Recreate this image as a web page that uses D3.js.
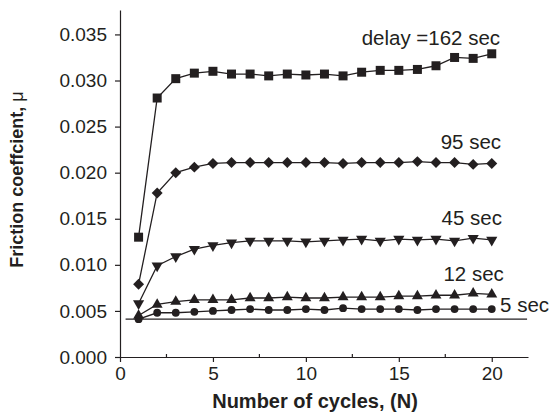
<!DOCTYPE html>
<html>
<head>
<meta charset="utf-8">
<script src="https://cdn.jsdelivr.net/npm/d3@7"></script>
<style>
    body { margin: 0; background: #fff; }
    svg text { font-family: "Liberation Sans", Arial, Helvetica, sans-serif; fill: #231f20; }
</style>
</head>
<body>
<div id="chart"></div>
<script>
// number of cycles (x) and friction coefficient per delay time
const cycles = [1, 2, 3, 4, 5, 6, 7, 8, 9, 10, 11, 12, 13, 14, 15, 16, 17, 18, 19, 20];
const delay162 = [0.0130, 0.0281, 0.0302, 0.0308, 0.0310, 0.0307, 0.0307, 0.0305, 0.0307, 0.0306,
    0.0307, 0.0305, 0.0309, 0.0311, 0.0311, 0.0312, 0.0316, 0.0325, 0.0324, 0.0329];
const delay95 = [0.0079, 0.0178, 0.0200, 0.0206, 0.0210, 0.0211, 0.0211, 0.0211, 0.0211, 0.0211,
    0.0211, 0.0210, 0.0211, 0.0211, 0.0211, 0.0212, 0.0211, 0.0211, 0.0209, 0.0210];
const delay45 = [0.0058, 0.0099, 0.0109, 0.0117, 0.0121, 0.0124, 0.0126, 0.0126, 0.0126, 0.0125,
    0.0126, 0.0127, 0.0128, 0.0126, 0.0128, 0.0127, 0.0128, 0.0126, 0.0129, 0.0127];
const delay12 = [0.0045, 0.0057, 0.0060, 0.0062, 0.0062, 0.0062, 0.0064, 0.0064, 0.0065, 0.0064,
    0.0064, 0.0065, 0.0065, 0.0065, 0.0066, 0.0066, 0.0067, 0.0067, 0.0069, 0.0068];
const delay5 = [0.0041, 0.0048, 0.0048, 0.0049, 0.0050, 0.0051, 0.0052, 0.0051, 0.0051, 0.0052,
    0.0051, 0.0053, 0.0052, 0.0052, 0.0052, 0.0051, 0.0052, 0.0052, 0.0052, 0.0052];

const seriesNames = ["delay =162 sec", "95 sec", "45 sec", "12 sec", "5 sec"];
const seriesValues = [delay162, delay95, delay45, delay12, delay5];

// label anchor points in data units
const labelX = [20.45, 20.5, 20.55, 20.65, 20.45];
const labelY = [0.0339, 0.0226, 0.0143, 0.0083, 0.0049];

// flat reference line under the curves
const refLineX = [0.3, 21.9];
const refLineY = [0.0041, 0.0041];

const xTicks = [0, 5, 10, 15, 20];
const xMinorTicks = [2.5, 7.5, 12.5, 17.5];
const yTicks = [0, 0.005, 0.010, 0.015, 0.020, 0.025, 0.030, 0.035];

const width = 553;
const height = 415;
const margin = ({top: 10, right: 25, bottom: 58, left: 120});
const ink = "#231f20";

const x = d3.scaleLinear()
    .domain([0, 21.95])
    .range([margin.left, width - margin.right]);

const y = d3.scaleLinear()
    .domain([0, 0.03765])
    .range([height - margin.bottom, margin.top]);

const svg = d3.select("#chart").append("svg")
    .attr("width", width)
    .attr("height", height)
    .attr("viewBox", [0, 0, width, height]);

// axes
const xAxis = g => g
    .attr("transform", `translate(0,${y(0)})`)
    .call(d3.axisBottom(x).tickValues(xTicks).tickFormat(d3.format("d"))
        .tickSize(5).tickPadding(5).tickSizeOuter(0))
    .call(g => g.selectAll("text").attr("font-size", 19).attr("fill", ink))
    .call(g => g.selectAll("line, path").attr("stroke", ink).attr("stroke-width", 1.2));

const yAxis = g => g
    .attr("transform", `translate(${x(0)},0)`)
    .call(d3.axisLeft(y).tickValues(yTicks).tickFormat(d3.format(".3f"))
        .tickSize(5).tickPadding(8).tickSizeOuter(0))
    .call(g => g.selectAll("text").attr("font-size", 19).attr("fill", ink))
    .call(g => g.selectAll("line, path").attr("stroke", ink).attr("stroke-width", 1.2));

svg.append("g").call(xAxis);
svg.append("g").call(yAxis);

// small inward minor ticks on the x axis
svg.append("g")
    .selectAll("line")
    .data(xMinorTicks)
    .join("line")
    .attr("x1", d => x(d))
    .attr("x2", d => x(d))
    .attr("y1", y(0))
    .attr("y2", y(0) - 3)
    .attr("stroke", ink)
    .attr("stroke-width", 1.2);

// axis titles
svg.append("text")
    .attr("x", 315)
    .attr("y", 408)
    .attr("text-anchor", "middle")
    .attr("font-size", 20)
    .attr("font-weight", "bold")
    .text("Number of cycles, (N)");

const yTitle = svg.append("text")
    .attr("transform", `translate(23,${(y(0) + margin.top) / 2 - 4}) rotate(-90)`)
    .attr("text-anchor", "middle")
    .attr("font-size", 18)
    .attr("font-weight", "bold");
yTitle.append("tspan").text("Friction coeffcient, ");
yTitle.append("tspan").attr("font-weight", "normal").text("μ");

// reference line
svg.append("line")
    .attr("x1", x(refLineX[0]))
    .attr("x2", x(refLineX[1]))
    .attr("y1", y(refLineY[0]))
    .attr("y2", y(refLineY[1]))
    .attr("stroke", ink)
    .attr("stroke-width", 1.2);

const line = d3.line()
    .x((d, i) => x(cycles[i]))
    .y(d => y(d));

const symbols = [
    d3.symbol().type(d3.symbolSquare).size(81),
    d3.symbol().type(d3.symbolSquare).size(60),
    d3.symbol().type(d3.symbolTriangle).size(54),
    d3.symbol().type(d3.symbolTriangle).size(52),
    d3.symbol().type(d3.symbolCircle).size(48)
];
const rotations = [0, 45, 180, 0, 0];

seriesValues.forEach((values, k) => {
    svg.append("path")
        .datum(values)
        .attr("fill", "none")
        .attr("stroke", ink)
        .attr("stroke-width", 1.3)
        .attr("d", line);

    svg.append("g")
        .selectAll("path")
        .data(values)
        .join("path")
        .attr("transform", (d, i) => `translate(${x(cycles[i])},${y(d)}) rotate(${rotations[k]})`)
        .attr("d", symbols[k])
        .attr("fill", ink);
});

// series labels
svg.append("g")
    .selectAll("text")
    .data(seriesNames)
    .join("text")
    .attr("x", (d, i) => x(labelX[i]))
    .attr("y", (d, i) => y(labelY[i]))
    .attr("text-anchor", (d, i) => i === seriesNames.length - 1 ? "start" : "end")
    .attr("font-size", 20.5)
    .text(d => d);
</script>
</body>
</html>
